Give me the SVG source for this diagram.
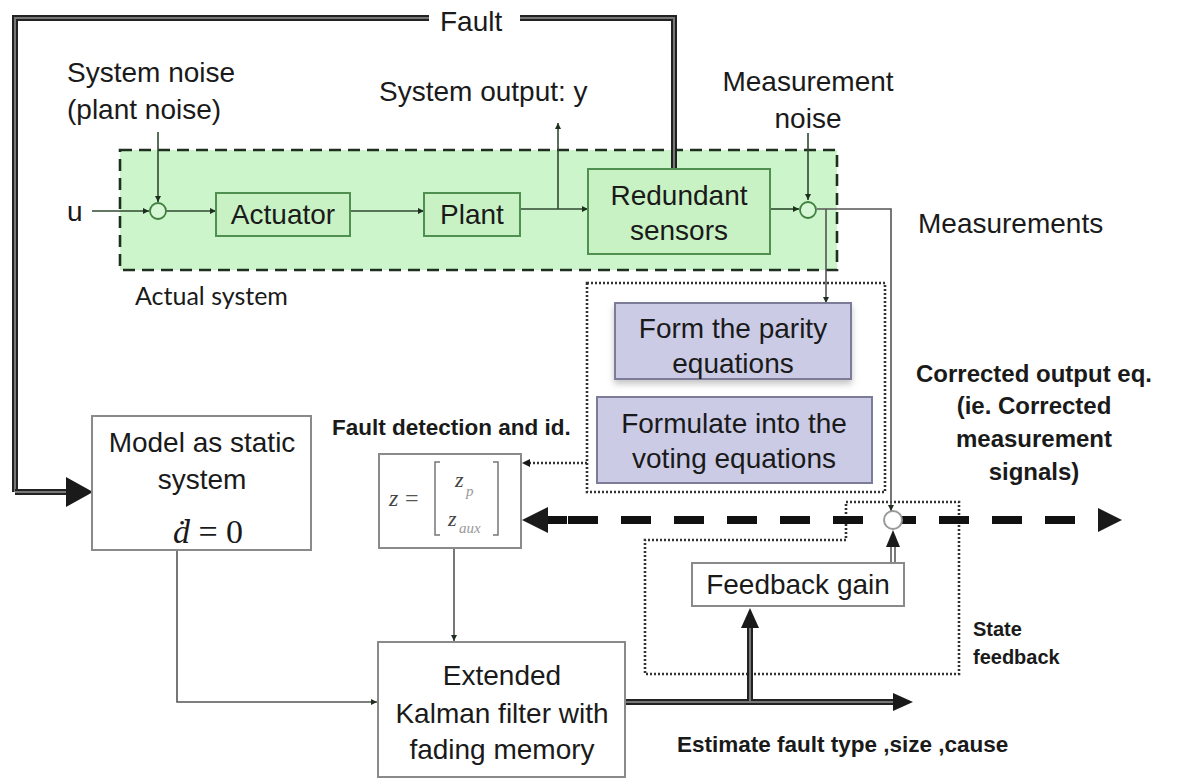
<svg xmlns="http://www.w3.org/2000/svg" width="1185" height="782" viewBox="0 0 1185 782">
  <defs>
    <style>
      .lbl { font-family: "Liberation Sans", Arial, sans-serif; font-size: 28px; fill: #1a1a1a; }
      .bold { font-family: "Liberation Sans", Arial, sans-serif; font-weight: bold; fill: #1a1a1a; }
      .hum { font-family: Lato, "Open Sans", sans-serif; font-size: 25px; fill: #1a1a1a; }
      .math { font-family: "Liberation Serif", "Times New Roman", serif; font-style: italic; }
      .gbox { fill: #c8f2c4; stroke: #4f8f4f; stroke-width: 2; }
      .pbox { fill: #cbcbe6; stroke: #7c7c98; stroke-width: 2; }
      .wbox { fill: #ffffff; stroke: #8a8a8a; stroke-width: 2; }
      .gline { fill: none; stroke: #2f4a2f; stroke-width: 1.6; }
      .line { fill: none; stroke: #555; stroke-width: 1.6; }
      .dot { fill: none; stroke: #333; stroke-width: 2.6; stroke-dasharray: 2 2; }
      .dbl-out { fill: none; stroke: #222; stroke-width: 6; }
      .dbl-in { fill: none; stroke: #777; stroke-width: 2; }
      .head { fill: #1a1a1a; }
    </style>
    <marker id="ah" viewBox="0 0 10 10" refX="10" refY="5" markerWidth="6" markerHeight="6" markerUnits="userSpaceOnUse" orient="auto">
      <path d="M0,0 L10,5 L0,10 z" fill="#1f2f1f"/>
    </marker>
    <filter id="shadow" x="-5%" y="-5%" width="110%" height="125%">
      <feDropShadow dx="0" dy="4" stdDeviation="3" flood-color="#888" flood-opacity="0.5"/>
    </filter>
  </defs>

  <rect width="1185" height="782" fill="#ffffff"/>

  <!-- actual system enclosure -->
  <g id="actual-system">
    <rect x="120" y="150" width="717" height="120" fill="#cdf5cb" stroke="#1f2f1f" stroke-width="2.6" stroke-dasharray="12 7"/>
    <text class="hum" x="135" y="305">Actual system</text>
  </g>

  <!-- dotted groupings -->
  <g id="parity-group">
    <rect class="dot" x="587" y="283" width="298" height="209"/>
  </g>
  <g id="state-feedback-group">
    <path class="dot" d="M846,502 H959 V674 H645 V540 H846 Z"/>
    <text class="bold" font-size="20" x="973" y="636">State</text>
    <text class="bold" font-size="20" x="973" y="664">feedback</text>
  </g>

  <!-- connectors -->
  <g id="connectors">
    <!-- fault path (double line) -->
    <path class="dbl-out" d="M15,492 V18 H429 M520,18 H674 V169"/>
    <path class="dbl-in" d="M15,492 V18 H429 M520,18 H674 V169"/>
    <path class="dbl-out" d="M15,492 H70"/>
    <path class="dbl-in" d="M15,492 H70"/>
    <polygon class="head" points="66,477 93,492 66,507"/>

    <!-- signal chain inside the actual system -->
    <path class="gline" d="M92,211 H149" marker-end="url(#ah)"/>
    <path class="gline" d="M158,132 V202" marker-end="url(#ah)"/>
    <path class="gline" d="M166,211 H216" marker-end="url(#ah)"/>
    <path class="gline" d="M350,211 H424" marker-end="url(#ah)"/>
    <path class="gline" d="M520,209 H588" marker-end="url(#ah)"/>
    <path class="gline" d="M558,209 V123" marker-end="url(#ah)"/>
    <path class="gline" d="M770,209 H799" marker-end="url(#ah)"/>
    <path class="gline" d="M808,133 V200" marker-end="url(#ah)"/>
    <path class="line" d="M817,209 H891 V511" marker-end="url(#ah)"/>
    <path class="line" d="M826,209 V303" marker-end="url(#ah)"/>

    <!-- parity group to fault detection -->
    <path class="dot" d="M587,463 H528"/>
    <polygon class="head" points="522,463 530,459 530,467"/>

    <!-- corrected output (thick dashed bus) -->
    <line x1="548" y1="520" x2="1100" y2="520" stroke="#111" stroke-width="8" stroke-dasharray="30 23" stroke-dashoffset="-20"/>
    <line x1="545" y1="520" x2="567" y2="520" stroke="#111" stroke-width="8"/>
    <polygon class="head" points="522,520 548,507 548,533"/>
    <polygon class="head" points="1098,508 1122,520 1098,532"/>

    <!-- model / fault detection into filter -->
    <path class="line" d="M177,550 V702 H377" marker-end="url(#ah)"/>
    <path class="line" d="M454,548 V641" marker-end="url(#ah)"/>

    <!-- filter estimate output (double line) -->
    <path class="dbl-out" d="M625,702 H895 M750,702 V626" stroke-width="5"/>
    <path class="dbl-in" d="M625,702 H895 M750,702 V626" stroke-width="1.6"/>
    <polygon class="head" points="893,693 913,702 893,711"/>
    <polygon class="head" points="741,628 750,608 759,628"/>

    <!-- feedback gain into summing junction -->
    <path fill="none" stroke="#333" stroke-width="1.3" d="M891,563 V546 M895,563 V546"/>
    <polygon class="head" points="886,547 893,530 900,547"/>
  </g>

  <!-- summing junctions -->
  <g id="sum-input">
    <circle cx="158" cy="211" r="8" fill="#d6f7d4" stroke="#3f7f3f" stroke-width="1.8"/>
  </g>
  <g id="sum-measurement">
    <circle cx="808" cy="210" r="8" fill="#d6f7d4" stroke="#3f7f3f" stroke-width="1.8"/>
  </g>
  <g id="sum-correction">
    <circle cx="893" cy="520" r="9" fill="#ffffff" stroke="#9a9a9a" stroke-width="2"/>
  </g>

  <!-- free labels -->
  <g id="labels">
    <text class="lbl" x="440" y="31">Fault</text>
    <text class="lbl" x="67" y="82">System noise</text>
    <text class="lbl" x="67" y="119">(plant noise)</text>
    <text class="lbl" x="379" y="101">System output: y</text>
    <text class="lbl" x="808" y="91" text-anchor="middle">Measurement</text>
    <text class="lbl" x="808" y="128" text-anchor="middle">noise</text>
    <text class="lbl" x="67" y="221">u</text>
    <text class="lbl" x="918" y="233">Measurements</text>
    <text class="bold" font-size="22.5" x="332" y="435">Fault detection and id.</text>
    <g class="bold" font-size="24" text-anchor="middle">
      <text x="1034" y="382">Corrected output eq.</text>
      <text x="1034" y="414">(ie. Corrected</text>
      <text x="1034" y="447">measurement</text>
      <text x="1034" y="480">signals)</text>
    </g>
    <text class="bold" font-size="22.5" x="677" y="752">Estimate fault type ,size ,cause</text>
  </g>

  <!-- blocks -->
  <g id="actuator">
    <rect class="gbox" x="216" y="193" width="134" height="43"/>
    <text class="lbl" x="283" y="224" text-anchor="middle">Actuator</text>
  </g>
  <g id="plant">
    <rect class="gbox" x="424" y="193" width="96" height="43"/>
    <text class="lbl" x="472" y="224" text-anchor="middle">Plant</text>
  </g>
  <g id="redundant-sensors">
    <rect class="gbox" x="588" y="169" width="182" height="85"/>
    <text class="lbl" x="679" y="205" text-anchor="middle">Redundant</text>
    <text class="lbl" x="679" y="240" text-anchor="middle">sensors</text>
  </g>
  <g id="parity-equations">
    <rect class="pbox" x="615" y="303" width="236" height="76" filter="url(#shadow)"/>
    <text class="lbl" x="733" y="338" text-anchor="middle">Form the parity</text>
    <text class="lbl" x="733" y="373" text-anchor="middle">equations</text>
  </g>
  <g id="voting-equations">
    <rect class="pbox" x="597" y="397" width="275" height="86"/>
    <text class="lbl" x="734" y="433" text-anchor="middle">Formulate into the</text>
    <text class="lbl" x="734" y="468" text-anchor="middle">voting equations</text>
  </g>
  <g id="static-model">
    <rect class="wbox" x="92" y="416" width="219" height="134"/>
    <text class="lbl" x="202" y="452" text-anchor="middle">Model as static</text>
    <text class="lbl" x="202" y="489" text-anchor="middle">system</text>
    <text font-family="'Liberation Serif', 'Times New Roman', serif" font-size="34" fill="#1a1a1a" x="208" y="543" text-anchor="middle"><tspan font-style="italic">ḋ</tspan> = 0</text>
  </g>
  <g id="fault-vector">
    <rect class="wbox" x="379" y="454" width="142" height="94"/>
    <text class="math" font-size="24" fill="#444" x="389" y="506">z</text>
    <text font-family="'Liberation Serif', serif" font-size="24" fill="#555" x="405" y="506">=</text>
    <path fill="none" stroke="#777" stroke-width="1.5" d="M440,462 H435 V535 H440 M493,462 H498 V535 H493"/>
    <text class="math" font-size="22" fill="#444" x="455" y="487">z</text>
    <text class="math" font-size="15" fill="#999" x="466" y="496">p</text>
    <text class="math" font-size="22" fill="#444" x="448" y="526">z</text>
    <text class="math" font-size="15" fill="#999" x="459" y="533">aux</text>
  </g>
  <g id="kalman-filter">
    <rect class="wbox" x="378" y="642" width="247" height="135"/>
    <text class="lbl" fill="#333" x="502" y="685" text-anchor="middle">Extended</text>
    <text class="lbl" fill="#333" x="502" y="723" text-anchor="middle">Kalman filter with</text>
    <text class="lbl" fill="#333" x="502" y="759" text-anchor="middle">fading memory</text>
  </g>
  <g id="feedback-gain">
    <rect class="wbox" x="692" y="563" width="212" height="43"/>
    <text class="lbl" x="798" y="594" text-anchor="middle">Feedback gain</text>
  </g>
</svg>
